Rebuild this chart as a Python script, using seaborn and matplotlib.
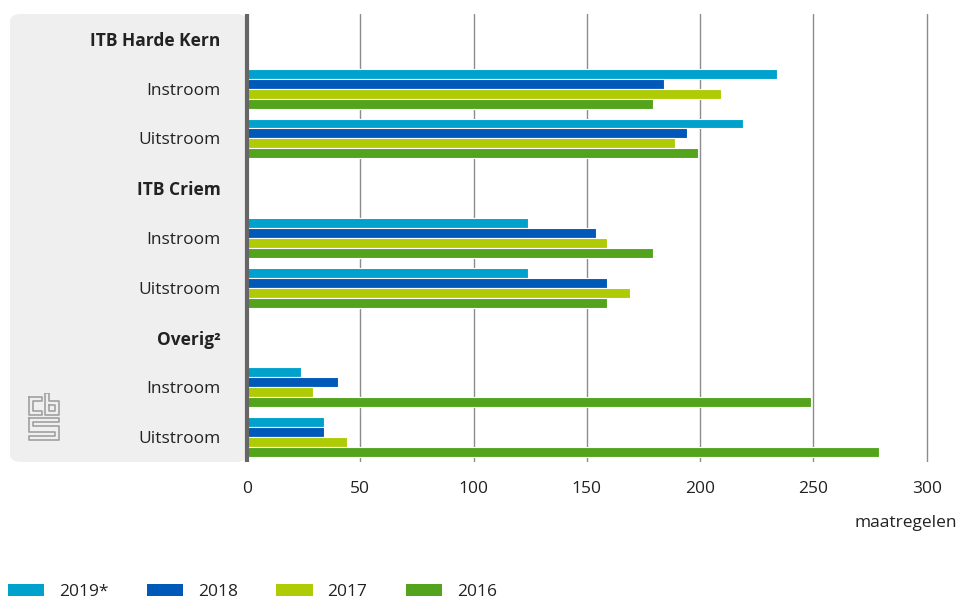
import numpy as np
import pandas as pd
import matplotlib
matplotlib.use("Agg")
import matplotlib.pyplot as plt
from matplotlib.patches import FancyBboxPatch, Patch
import seaborn as sns

# rows of the chart: group headers have no bars
groups = ["ITB Harde Kern", "ITB Criem", "Overig²"]
flows = ["Instroom", "Uitstroom"]
years = ["2019*", "2018", "2017", "2016"]
colors = ["#00a1cd", "#0058b8", "#afcb05", "#53a31d"]

# values per year, order: HK in, HK uit, Criem in, Criem uit, Overig in, Overig uit
v2019 = [234, 219, 124, 124, 24, 34]
v2018 = [184, 194, 154, 159, 40, 34]
v2017 = [209, 189, 159, 169, 29, 44]
v2016 = [179, 199, 179, 159, 249, 279]

keys = [g + "|" + f for g in groups for f in flows]
records = []
for year, vals in zip(years, [v2019, v2018, v2017, v2016]):
    for k, v in zip(keys, vals):
        records.append({"row": k, "year": year, "value": v})
df = pd.DataFrame(records)

order = []
labels = []
for g in groups:
    order.append(g)
    labels.append(g)
    for f in flows:
        order.append(g + "|" + f)
        labels.append(f)

sns.set_theme(style="white")
plt.rcParams["font.family"] = ["Open Sans", "DejaVu Sans"]
FS = 12.5
TXT = "#222222"

fig = plt.figure(figsize=(9.61, 6), dpi=100)
W, H = 961, 600
ax = fig.add_axes([247 / W, 1 - 462 / H, (929 - 247) / W, (462 - 14) / H])

# grey panel behind the category labels
panel = FancyBboxPatch((10 / W, 1 - 462 / H), (247 - 10) / W, (462 - 14) / H,
                       boxstyle="round,pad=0,rounding_size=0.012",
                       transform=fig.transFigure, facecolor="#efefef",
                       edgecolor="none", zorder=-5)
fig.patches.append(panel)

sns.barplot(data=df, x="value", y="row", hue="year", order=order,
            hue_order=years, palette=colors, orient="h", width=0.8,
            edgecolor="white", linewidth=0.8, saturation=1, ax=ax, zorder=3)

ax.set_xlim(0, 301)
ax.set_ylim(len(order) - 0.5, -0.5)
ax.set_xticks(np.arange(0, 301, 50))
ax.set_xticklabels([str(t) for t in range(0, 301, 50)], fontsize=FS, color=TXT)
ax.set_yticks(range(len(order)))
ax.set_yticklabels(labels, fontsize=FS, color=TXT)
for tl, lab in zip(ax.get_yticklabels(), labels):
    if lab in groups:
        tl.set_fontweight("bold")
ax.tick_params(axis="y", length=0, pad=19)
ax.tick_params(axis="x", length=0, pad=14)
ax.set_xlabel("")
ax.set_ylabel("")

ax.xaxis.grid(True, color="#8c8c8c", linewidth=1)
ax.set_axisbelow(True)
for s in ["top", "right", "bottom"]:
    ax.spines[s].set_visible(False)
ax.spines["left"].set_color("#666666")
ax.spines["left"].set_linewidth(3)
ax.spines["left"].set_capstyle("butt")
ax.spines["left"].set_zorder(5)
ax.patch.set_alpha(0)

fig.text(957 / W, 1 - 523 / H, "maatregelen", ha="right", va="center",
         fontsize=FS, color=TXT)

# legend at the bottom
ax.get_legend().remove()
handles = [Patch(facecolor=c, edgecolor="none") for c in colors]
fig.legend(handles, years, loc="center left", bbox_to_anchor=(8 / W, 1 - 592 / H),
           ncol=4, frameon=False, fontsize=FS, handlelength=2.1,
           handleheight=0.7, handletextpad=0.85, columnspacing=2.2,
           borderpad=0, borderaxespad=0, labelcolor=TXT)

# simple cbs logo outline
logo = fig.add_axes([28 / W, 1 - 441 / H, 32 / W, 48 / H])
logo.set_xlim(0, 32)
logo.set_ylim(48, 0)
logo.axis("off")
lc = "#a0a0a0"
segs = [
    # c
    [(1, 4), (1, 22), (14, 22), (14, 18), (5, 18), (5, 8), (14, 8), (14, 4), (1, 4)],
    # b
    [(17, 0), (17, 22), (31, 22), (31, 8), (21, 8), (21, 0), (17, 0)],
    [(21, 12), (27, 12), (27, 18), (21, 18), (21, 12)],
    # s
    [(1, 25), (31, 25), (31, 29), (5, 29), (5, 33), (31, 33), (31, 47), (1, 47),
     (1, 43), (27, 43), (27, 39), (1, 39), (1, 25)],
]
for s in segs:
    xs, ys = zip(*s)
    logo.plot(xs, ys, color=lc, linewidth=1.2)

fig.savefig("out.png", dpi=100)
